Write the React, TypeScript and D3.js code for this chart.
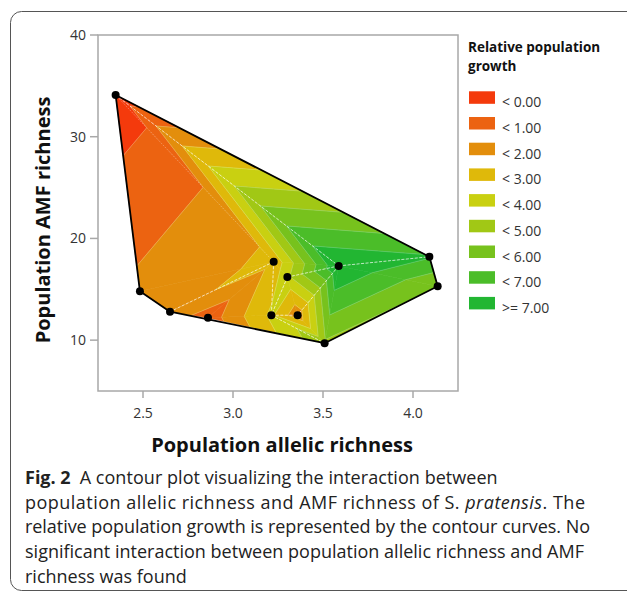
import React from "react";
import * as d3 from "d3";

// sample points (population allelic richness, AMF richness, relative growth)
const allelic = [2.348, 4.091, 4.137, 3.509, 2.483, 2.65, 2.861, 3.226, 3.302, 3.587, 3.213, 3.359];
const amfRich = [34.1, 18.2, 15.3, 9.7, 14.8, 12.8, 12.2, 17.7, 16.2, 17.3, 12.45, 12.45];
const growth = [-0.55, 7.1, 5.05, 4.85, 1.23, 1.8, 0.4, 2.25, 3.8, 8.0, 3.2, 1.3];

// triangulation of the points (indices)
const mesh = [
  [0, 4, 7], [4, 5, 7], [5, 6, 7], [6, 7, 10], [6, 10, 3],
  [7, 8, 10], [8, 10, 11], [10, 11, 3], [8, 11, 9], [11, 3, 9],
  [7, 8, 9], [0, 7, 9], [0, 9, 1], [9, 1, 2], [9, 2, 3],
];
// edges where the render shows white seams
const seams = [[0, 9], [9, 1], [9, 8], [9, 11], [7, 5], [7, 10], [8, 10], [10, 11], [10, 3], [0, 7]];

const levels = [0, 1, 2, 3, 4, 5, 6, 7];
const bandLabels = ["< 0.00", "< 1.00", "< 2.00", "< 3.00", "< 4.00", "< 5.00", "< 6.00", "< 7.00", ">= 7.00"];
const bandColors = ["#f43a0c", "#ec6311", "#e38e0c", "#dfb90a", "#c9d011", "#a1c815", "#77c21d", "#4bbd29", "#22b632"];

const xTicks = [2.5, 3.0, 3.5, 4.0];
const yTicks = [10, 20, 30, 40];

const captionLines = [
  "population allelic richness and AMF richness of ",
  "relative population growth is represented by the contour curves. No",
  "significant interaction between population allelic richness and AMF",
  "richness was found",
];
const captionWidths = [560, 565, 559];

const x = d3.scaleLinear().domain([2.25, 4.25]).range([98, 458]);
const y = d3.scaleLinear().domain([5, 40]).range([391, 35]);

type Pt = { px: number; py: number; v: number };

const pts: Pt[] = allelic.map((a, i) => ({ px: x(a), py: y(amfRich[i]), v: growth[i] }));

function lerp(a: Pt, b: Pt, lv: number): Pt {
  const t = (lv - a.v) / (b.v - a.v);
  return { px: a.px + t * (b.px - a.px), py: a.py + t * (b.py - a.py), v: lv };
}

// clip polygon against v >= lv (above) or v < lv
function clip(poly: Pt[], lv: number, above: boolean): Pt[] {
  const out: Pt[] = [];
  const inside = (p: Pt) => (above ? p.v >= lv : p.v < lv);
  for (let i = 0; i < poly.length; i++) {
    const a = poly[i];
    const b = poly[(i + 1) % poly.length];
    if (inside(a)) out.push(a);
    if (inside(a) !== inside(b)) out.push(lerp(a, b, lv));
  }
  return out;
}

const line = d3.line<Pt>().x((d) => d.px).y((d) => d.py);

const bands: { d: string; c: string }[] = [];
const isolines: string[] = [];
mesh.forEach((tri) => {
  const poly = tri.map((i) => pts[i]);
  bandColors.forEach((c, b) => {
    let p = poly;
    if (b > 0) p = clip(p, levels[b - 1], true);
    if (b < levels.length) p = clip(p, levels[b], false);
    if (p.length >= 3) bands.push({ d: line(p) + "Z", c });
  });
  levels.forEach((lv) => {
    const seg: Pt[] = [];
    for (let i = 0; i < 3; i++) {
      const a = poly[i];
      const b = poly[(i + 1) % 3];
      if ((a.v - lv) * (b.v - lv) < 0) seg.push(lerp(a, b, lv));
    }
    if (seg.length === 2) isolines.push(line(seg) as string);
  });
});

const hull = d3.polygonHull(pts.map((p) => [p.px, p.py] as [number, number])) || [];

const font = "'Open Sans', sans-serif";

export default function App() {
  return (
    <svg width={627} height={603} style={{ position: "absolute", left: 0, top: 0, background: "#fff" }}>
      <rect x={10.5} y={11.5} width={660} height={579} rx={11} fill="none" stroke="#555" strokeWidth={1} />

      {/* frame */}
      <rect x={98} y={35} width={360} height={356} fill="none" stroke="#a8a8a8" strokeWidth={1.5} />
      {yTicks.map((t) => (
        <g key={t}>
          <line x1={90} x2={98} y1={y(t)} y2={y(t)} stroke="#a8a8a8" strokeWidth={1.5} />
          <text x={86} y={y(t) + 5} textAnchor="end" fontFamily={font} fontSize={14} fill="#333">{t}</text>
        </g>
      ))}
      {xTicks.map((t) => (
        <g key={t}>
          <line x1={x(t)} x2={x(t)} y1={391} y2={398} stroke="#a8a8a8" strokeWidth={1.5} />
          <text x={x(t)} y={418} textAnchor="middle" fontFamily={font} fontSize={14} fill="#333">{t.toFixed(1)}</text>
        </g>
      ))}

      {/* contour bands */}
      {bands.map((b, i) => (
        <path key={i} d={b.d} fill={b.c} stroke={b.c} strokeWidth={0.6} strokeLinejoin="round" />
      ))}
      {isolines.map((d, i) => (
        <path key={i} d={d} stroke="#fff" strokeOpacity={0.3} strokeWidth={0.7} fill="none" />
      ))}
      {seams.map(([a, b], i) => (
        <line key={i} x1={pts[a].px} y1={pts[a].py} x2={pts[b].px} y2={pts[b].py}
          stroke="#fff" strokeWidth={0.8} strokeDasharray={i === 9 ? "1 2" : "3 1.5"} strokeOpacity={i === 9 ? 0.45 : 0.85} />
      ))}
      <path d={"M" + hull.join("L") + "Z"} fill="none" stroke="#000" strokeWidth={1.8} strokeLinejoin="round" />
      {pts.map((p, i) => (
        <circle key={i} cx={p.px} cy={p.py} r={4} fill="#000" />
      ))}

      {/* axis titles */}
      <text x={282} y={452} textAnchor="middle" fontFamily={font} fontWeight="bold" fontSize={20} fill="#111">
        Population allelic richness
      </text>
      <text transform="translate(50,220) rotate(-90)" textAnchor="middle" fontFamily={font} fontWeight="bold" fontSize={20} fill="#111">
        Population AMF richness
      </text>

      {/* legend */}
      <text x={468} y={52} fontFamily={font} fontWeight="bold" fontSize={13.5} fill="#111">Relative population</text>
      <text x={468} y={70.5} fontFamily={font} fontWeight="bold" fontSize={13.5} fill="#111">growth</text>
      {bandLabels.map((l, i) => (
        <g key={l} transform={`translate(469,${91.3 + i * 25.7})`}>
          <rect width={26} height={12.5} fill={bandColors[i]} />
          <text x={33} y={16} fontFamily={font} fontSize={14} fill="#333">{l}</text>
        </g>
      ))}

      {/* caption */}
      <g fontFamily={font} fontSize={18} fill="#222">
        <text x={25} y={484}>
          <tspan fontWeight="bold">Fig. 2</tspan>
          <tspan dx={9} textLength={418}>A contour plot visualizing the interaction between</tspan>
        </text>
        <text x={25} y={508.7} textLength={captionWidths[0]}>
          {captionLines[0]}S. <tspan fontStyle="italic">pratensis</tspan>. The
        </text>
        {captionLines.slice(1).map((l, i) => (
          <text key={i} x={25} y={533.4 + i * 24.7} textLength={captionWidths[i + 1]}>{l}</text>
        ))}
      </g>
    </svg>
  );
}
